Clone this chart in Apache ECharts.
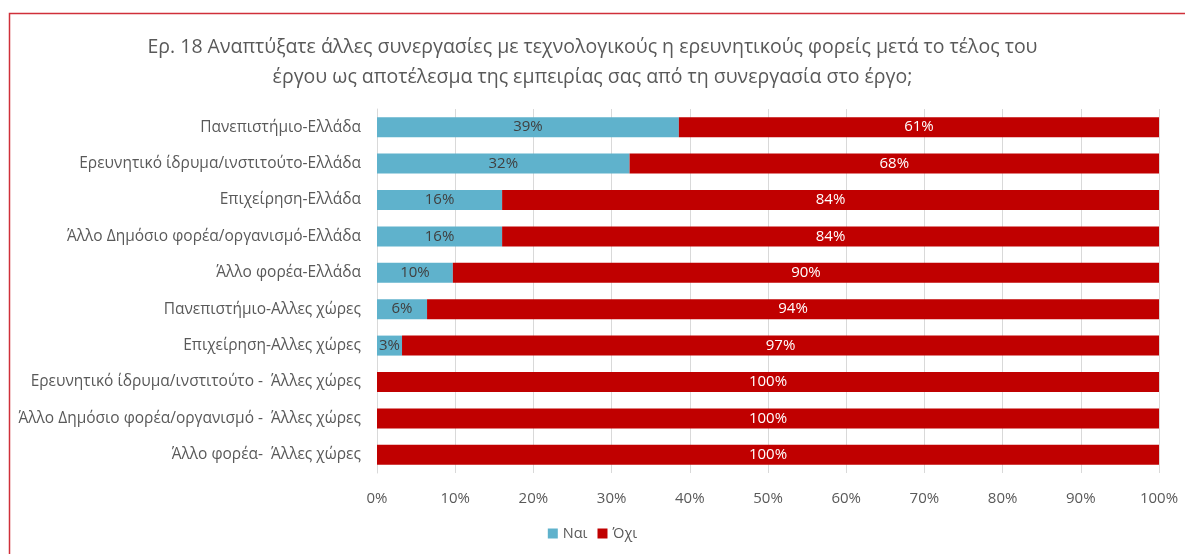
<!DOCTYPE html>
<html><head><meta charset="utf-8">
<script src="https://cdn.jsdelivr.net/npm/echarts@6/dist/echarts.min.js"></script>
<style>html,body{margin:0;padding:0;background:#fff}#c{width:1185px;height:554px}</style>
</head><body><div id="c"></div>
<script>
const titleLines = ['Ερ. 18 Αναπτύξατε άλλες συνεργασίες με τεχνολογικούς η ερευνητικούς φορείς μετά το τέλος του','έργου ως αποτέλεσμα της εμπειρίας σας από τη συνεργασία στο έργο;'];
const categories = ['Πανεπιστήμιο-Ελλάδα','Ερευνητικό ίδρυμα/ινστιτούτο-Ελλάδα','Επιχείρηση-Ελλάδα','Άλλο Δημόσιο φορέα/οργανισμό-Ελλάδα','Άλλο φορέα-Ελλάδα','Πανεπιστήμιο-Αλλες χώρες','Επιχείρηση-Αλλες χώρες','Ερευνητικό ίδρυμα/ινστιτούτο -  Άλλες χώρες','Άλλο Δημόσιο φορέα/οργανισμό -  Άλλες χώρες','Άλλο φορέα-  Άλλες χώρες'];
const seriesNames = ['Ναι','Όχι'];
const yesValues = [38.6, 32.3, 16.0, 16.0, 9.7, 6.4, 3.2, 0, 0, 0];
const noValues = [61.4, 67.7, 84.0, 84.0, 90.3, 93.6, 96.8, 100, 100, 100];
const xTicks = [0,10,20,30,40,50,60,70,80,90,100];

const FONT = '"Open Sans", "Noto Sans", sans-serif';
const chart = echarts.init(document.getElementById('c'), null, {renderer:'canvas'});
chart.setOption({
  animation:false,
  textStyle:{fontFamily:FONT},
  title:{text:titleLines.join('\n'), left:'center', top:27, textStyle:{fontFamily:FONT, fontSize:19.5, fontWeight:'normal', color:'#595959', lineHeight:30}},
  graphic:[{type:'rect', shape:{x:9.5,y:13.5,width:1200,height:600}, style:{fill:null, stroke:'#D0303A', lineWidth:1.5}, silent:true}],
  legend:{data:seriesNames, bottom:8, left:'center', itemWidth:10, itemHeight:10, itemGap:10, icon:'rect', textStyle:{fontFamily:FONT, fontSize:14.5, color:'#595959'}},
  grid:{left:377, right:26, top:109, bottom:81, containLabel:false},
  xAxis:{type:'value', min:0, max:100, interval:10,
    axisLabel:{formatter:v=>v+'%', color:'#595959', fontSize:15, margin:18},
    axisLine:{show:false}, axisTick:{show:false},
    splitLine:{lineStyle:{color:'#d9d9d9', width:1}}},
  yAxis:{type:'category', inverse:true, data:categories,
    axisLabel:{color:'#595959', fontSize:15.5, margin:16},
    axisLine:{show:true, lineStyle:{color:'#d9d9d9'}}, axisTick:{show:false}},
  series:[
    {name:seriesNames[0], type:'bar', stack:'t', barWidth:20, data:yesValues,
     itemStyle:{color:'#5FB2CC'},
     label:{show:true, position:'inside', formatter:p=>p.value>0?Math.round(p.value)+'%':'', color:'#404040', fontSize:15, fontFamily:FONT}},
    {name:seriesNames[1], type:'bar', stack:'t', barWidth:20, data:noValues,
     itemStyle:{color:'#C00000'},
     label:{show:true, position:'inside', formatter:p=>Math.round(p.value)+'%', color:'#ffffff', fontSize:15, fontFamily:FONT}}
  ]
});
</script></body></html>
